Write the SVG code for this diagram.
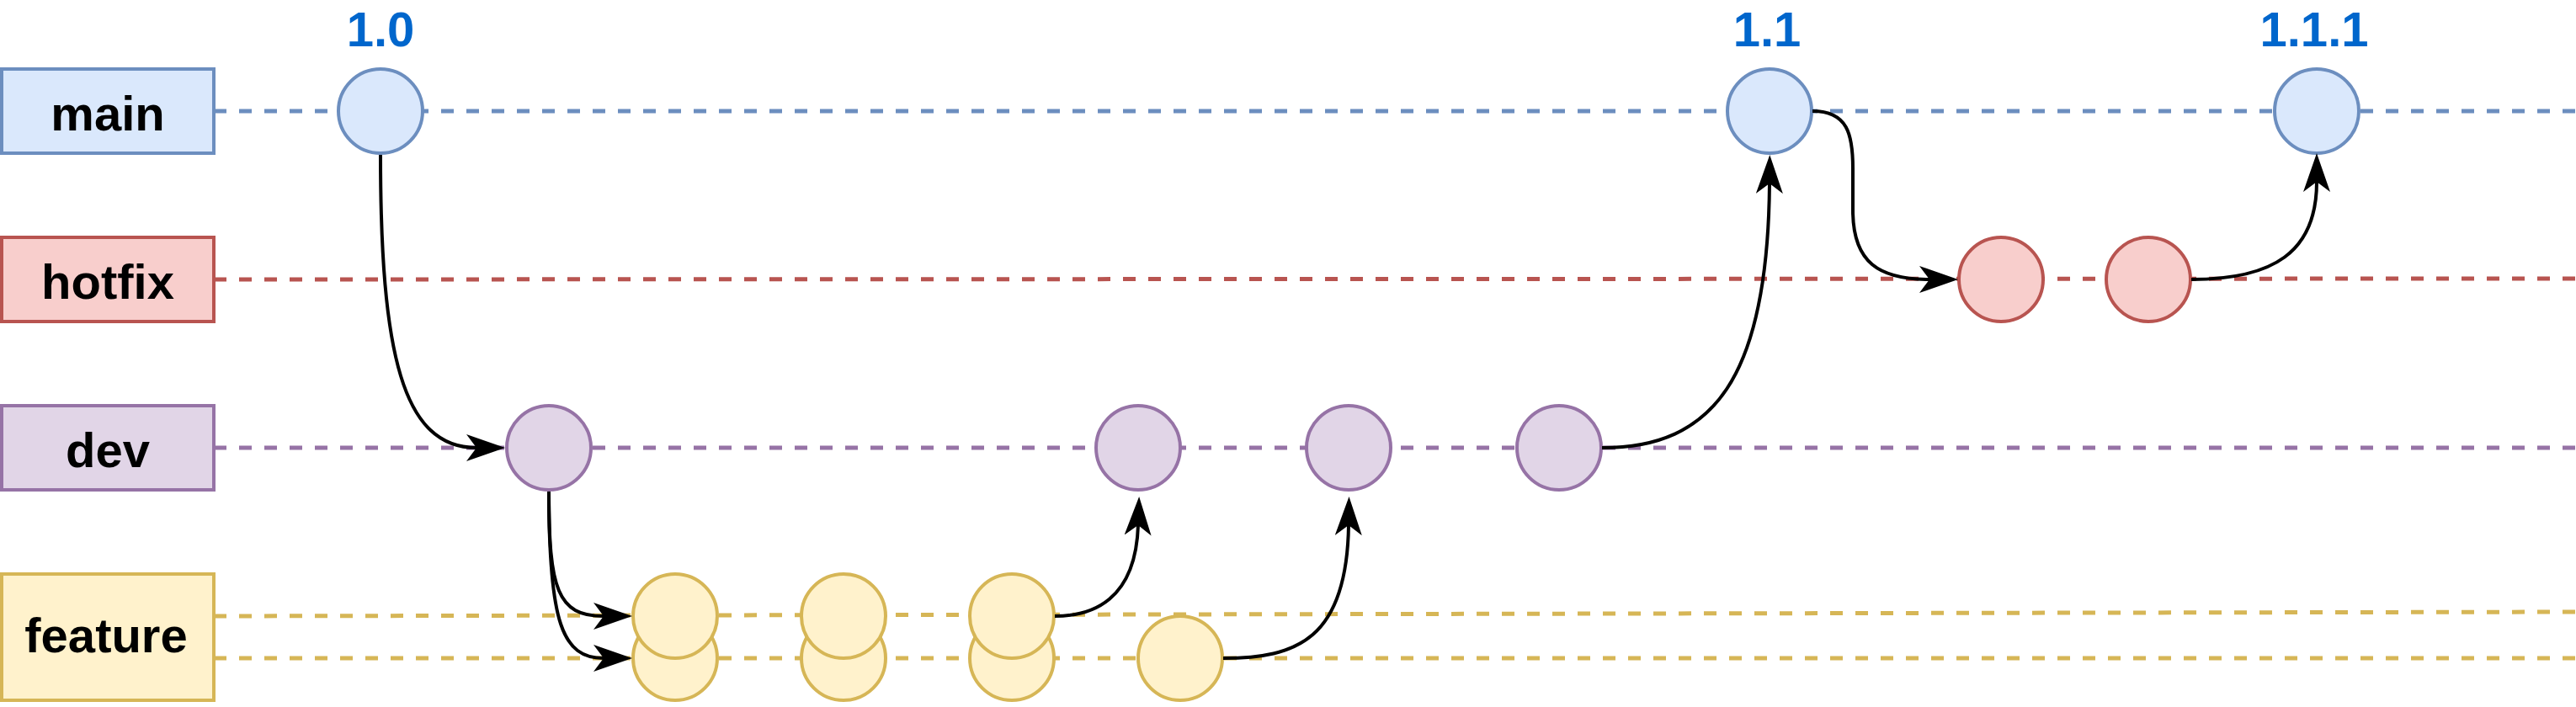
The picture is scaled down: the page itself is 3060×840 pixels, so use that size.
<svg xmlns="http://www.w3.org/2000/svg" width="3060" height="840" viewBox="0 0 3060 840">
<style>
text{font-family:"Liberation Sans",Arial,sans-serif;font-weight:bold;font-size:58px;text-anchor:middle}
.ver{fill:#0066CC}
.lbl{fill:#000}
.lane{fill:none;stroke-width:5;stroke-dasharray:15 15}
.box,.n{stroke-width:4}
.blue{fill:#dae8fc;stroke:#6c8ebf}
.red{fill:#f8cecc;stroke:#b85450}
.purple{fill:#e1d5e7;stroke:#9673a6}
.yellow{fill:#fff2cc;stroke:#d6b656}
.edge{fill:none;stroke:#000;stroke-width:4;marker-end:url(#arr)}
</style>
<defs>
<marker id="arr" viewBox="0 0 46 32" refX="12" refY="16" markerWidth="46" markerHeight="32" markerUnits="userSpaceOnUse" orient="auto">
<path d="M0,0 L46,16 L0,32 L12,16 Z" fill="#000"/>
</marker>
</defs>
<rect width="3060" height="840" fill="#fff"/>
<g id="lanes">
<line class="lane" x1="254" y1="132" x2="3060" y2="132" stroke="#6c8ebf"/>
<line class="lane" x1="254" y1="332" x2="3060" y2="331" stroke="#b85450"/>
<line class="lane" x1="254" y1="532" x2="3060" y2="532" stroke="#9673a6"/>
<line class="lane" x1="254" y1="732" x2="3060" y2="727" stroke="#d6b656"/>
<line class="lane" x1="254" y1="782" x2="3060" y2="782" stroke="#d6b656"/>
</g>
<g id="branch-main"><rect class="box blue" x="2" y="82" width="252" height="100"/><text class="lbl" x="128" y="155">main</text></g>
<g id="branch-hotfix"><rect class="box red" x="2" y="282" width="252" height="100"/><text class="lbl" x="128" y="355">hotfix</text></g>
<g id="branch-dev"><rect class="box purple" x="2" y="482" width="252" height="100"/><text class="lbl" x="128" y="555">dev</text></g>
<g id="branch-feature"><rect class="box yellow" x="2" y="682" width="252" height="150"/><text class="lbl" x="126" y="775">feature</text></g>
<g id="main-1-0"><circle class="n blue" cx="452" cy="132" r="50"/><text class="ver" x="452" y="55">1.0</text></g>
<g id="main-1-1"><circle class="n blue" cx="2102" cy="132" r="50"/><text class="ver" x="2099" y="55">1.1</text></g>
<g id="main-1-1-1"><circle class="n blue" cx="2752" cy="132" r="50"/><text class="ver" x="2749" y="55">1.1.1</text></g>
<g id="hotfix-1"><circle class="n red" cx="2377" cy="332" r="50"/></g>
<g id="hotfix-2"><circle class="n red" cx="2552" cy="332" r="50"/></g>
<g id="dev-1"><circle class="n purple" cx="652" cy="532" r="50"/></g>
<g id="dev-2"><circle class="n purple" cx="1352" cy="532" r="50"/></g>
<g id="dev-3"><circle class="n purple" cx="1602" cy="532" r="50"/></g>
<g id="dev-4"><circle class="n purple" cx="1852" cy="532" r="50"/></g>
<g id="feature-b1"><circle class="n yellow" cx="802" cy="782" r="50"/></g>
<g id="feature-b2"><circle class="n yellow" cx="1002" cy="782" r="50"/></g>
<g id="feature-b3"><circle class="n yellow" cx="1202" cy="782" r="50"/></g>
<g id="feature-b4"><circle class="n yellow" cx="1402" cy="782" r="50"/></g>
<g id="feature-a1"><circle class="n yellow" cx="802" cy="732" r="50"/></g>
<g id="feature-a2"><circle class="n yellow" cx="1002" cy="732" r="50"/></g>
<g id="feature-a3"><circle class="n yellow" cx="1202" cy="732" r="50"/></g>
<g id="connectors">
<path class="edge" d="M452,184 C452,420 478,532 566,532"/>
<path class="edge" d="M652,584 C652,700 662,732 717,732"/>
<path class="edge" d="M652,584 C652,740 668,782 717,782"/>
<path class="edge" d="M1253,732 C1297,732 1349,714 1352,624"/>
<path class="edge" d="M1453,782 C1540,782 1600,760 1602,624"/>
<path class="edge" d="M1903,532 C2035,532 2100,450 2102,218"/>
<path class="edge" d="M2153,132 C2195,132 2201,160 2201,200 L2201,250 C2201,312 2232,332 2292,332"/>
<path class="edge" d="M2603,332 C2700,332 2752,300 2752,216"/>
</g>
</svg>
